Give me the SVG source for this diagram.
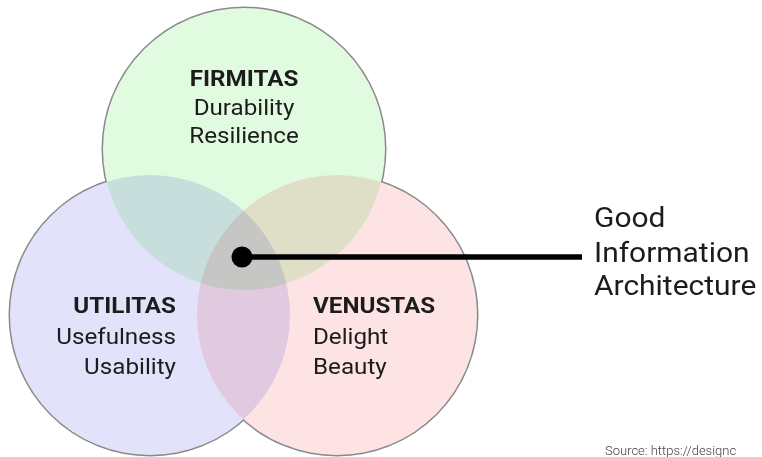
<svg xmlns="http://www.w3.org/2000/svg" xmlns:xlink="http://www.w3.org/1999/xlink" width="762" height="457" viewBox="0 0 762 457">
<style>
.outline{fill:none;stroke:#8a8a8a;stroke-width:3}
.under{fill:#ffffff;stroke:none}
.blob{mix-blend-mode:multiply;stroke:none}
.t{font-family:Roboto,"Liberation Sans",sans-serif;fill:#1c1c1c}
.h{font-weight:700;font-size:22px}
.s{font-weight:400;font-size:22px}
.big{font-family:Roboto,"Liberation Sans",sans-serif;font-size:28px;fill:#1c1c1c}
.src{font-family:Roboto,"Liberation Sans",sans-serif;font-size:13px;font-weight:300;fill:#444444}
</style>
<defs>
<circle id="cG" cx="244" cy="149" r="141"/>
<circle id="cU" cx="150" cy="315" r="140"/>
<circle id="cV" cx="337" cy="315" r="140"/>
</defs>
<rect width="762" height="457" fill="#ffffff"/>
<g id="outlines">
<use xlink:href="#cG" class="outline"/>
<use xlink:href="#cU" class="outline"/>
<use xlink:href="#cV" class="outline"/>
<use xlink:href="#cG" class="under"/>
<use xlink:href="#cU" class="under"/>
<use xlink:href="#cV" class="under"/>
</g>
<g id="utilitas">
<use xlink:href="#cU" class="blob" fill="#e3e2fb"/>
</g>
<g id="venustas">
<use xlink:href="#cV" class="blob" fill="#fde3e3"/>
</g>
<g id="firmitas">
<use xlink:href="#cG" class="blob" fill="#e1fbe1"/>
</g>
<g id="firmitas-label" transform="translate(244,0) scale(1.1,1)" text-anchor="middle">
<text class="t h" x="0" y="86">FIRMITAS</text>
<text class="t s" x="0" y="115">Durability</text>
<text class="t s" x="0" y="143">Resilience</text>
</g>
<g id="utilitas-label" transform="translate(176,0) scale(1.1,1)" text-anchor="end">
<text class="t h" x="0" y="313">UTILITAS</text>
<text class="t s" x="0" y="344">Usefulness</text>
<text class="t s" x="0" y="374">Usability</text>
</g>
<g id="venustas-label" transform="translate(313,0) scale(1.1,1)" text-anchor="start">
<text class="t h" x="0" y="313">VENUSTAS</text>
<text class="t s" x="0" y="344">Delight</text>
<text class="t s" x="0" y="374">Beauty</text>
</g>
<g id="connectors">
<line x1="242" y1="257" x2="582" y2="257" stroke="#000000" stroke-width="5.5"/>
<circle cx="242" cy="257" r="10.5" fill="#000000"/>
</g>
<g id="good-ia" transform="translate(594,0) scale(1.07,1)">
<text class="big" x="0" y="227">Good</text>
<text class="big" x="0" y="262">Information</text>
<text class="big" x="0" y="295">Architecture</text>
</g>
<text class="src" x="605" y="455">Source: https://designc</text>
</svg>
